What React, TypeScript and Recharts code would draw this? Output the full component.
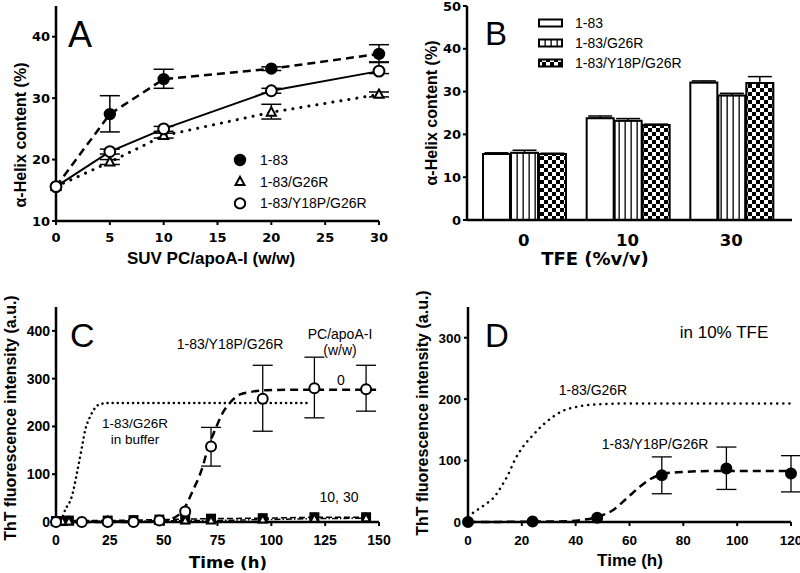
import React from 'react';
import { LineChart, Line, XAxis, YAxis, ErrorBar, BarChart, Bar, ComposedChart, Legend } from 'recharts';

// ---------- Panel A : alpha-helix vs SUV PC/apoA-I ----------
const ratioA = [0, 5, 10, 20, 30];
const ratioTicks = [0, 5, 10, 15, 20, 25, 30];
const helix183 = [15.6, 27.4, 33.1, 34.8, 37.2];
const helix183Err: any[] = [undefined, [2.9, 3.0], [1.5, 1.6], [0.3, 0.3], [1.3, 1.5]];
const helixG26R = [15.6, 19.6, 23.9, 27.7, 30.6];
const helixG26RErr: any[] = [undefined, [0.4, 0.4], [0.4, 0.4], [1.1, 1.3], [0.4, 0.4]];
const helixY18P = [15.6, 21.3, 25.0, 31.2, 34.4];
const helixY18PErr: any[] = [undefined, [0.4, 0.4], [0.4, 0.4], [0.4, 0.4], [0.4, 1.4]];
const helixTicksA = [10, 20, 30, 40];

// ---------- Panel B : alpha-helix vs TFE ----------
const tfeCats = ['0', '10', '30'];
const bar183 = [15.4, 23.8, 32.1];
const bar183Err = [0.3, 0.5, 0.4];
const barG26R = [15.7, 23.2, 29.1];
const barG26RErr = [0.6, 0.5, 0.5];
const barY18P = [15.4, 22.2, 32.0];
const barY18PErr = [0.2, 0.2, 1.5];
const helixTicksB = [0, 10, 20, 30, 40, 50];

// ---------- Panel C : ThT kinetics with PC ----------
const timeC = [0, 12, 24, 36, 48, 60, 72, 96, 120, 144];
const thtC0 = [0, 0, 0, 0, 3, 22, 158, 258, 280, 278];
const thtC0Err: any[] = [undefined, undefined, undefined, undefined, undefined, undefined, [41, 40], [68, 70], [62, 65], [46, 50]];
const timeCLow = [0, 3, 6, 24, 36, 48, 60, 72, 96, 120, 144];
const thtC10 = [2, 2, 3, 3, 4, 5, 6, 7, 8, 10, 10];
const thtC30 = [0, 1, 1, 2, 2, 2, 3, 3, 5, 7, 8];
const fitBufT = [0, 2, 4.3, 7.4, 9.7, 12.1, 13.6, 15.9, 18.2, 20.6, 25, 40, 80, 118];
const fitBufV = [0, 2, 26, 54, 102, 158, 193, 221, 239, 247, 249, 249, 249, 249];
const fitC0T = [0, 30, 50, 54.6, 59.2, 63.8, 67.7, 70.8, 73.9, 77, 80.9, 85.5, 90.2, 97.9, 120, 150];
const fitC0V = [0, 0, 2, 8, 26, 68, 110, 158, 193, 225, 250, 267, 272, 276, 277, 277];
const timeTicksC = [0, 25, 50, 75, 100, 125, 150];
const thtTicksC = [0, 100, 200, 300, 400];

// ---------- Panel D : ThT kinetics in 10% TFE ----------
const timeD = [0, 24, 48, 72, 96, 120];
const thtD = [0, 1, 7, 76, 87, 79];
const thtDErr: any[] = [undefined, undefined, undefined, [30, 30], [34, 35], [30, 29]];
const fitDG26RT = [0, 2.2, 6.2, 10, 12.4, 14.9, 17.4, 20.5, 23.6, 28.6, 34.8, 41, 46.6, 60, 120];
const fitDG26RV = [9, 16, 28, 42, 58, 77, 101, 123, 139, 161, 180, 188, 191, 193, 193];
const fitDY18PT = [0, 34, 41.7, 47.9, 54.1, 59.1, 64, 67.8, 71.5, 77.7, 92.7, 120];
const fitDY18PV = [0, 1, 3, 8, 20, 39, 58, 70, 77, 81, 83, 83];
const timeTicksD = [0, 20, 40, 60, 80, 100, 120];
const thtTicksD = [0, 100, 200, 300];

// ---------- derived tables ----------
const dataA = ratioA.map((x, i) => ({
  x,
  s183: helix183[i], s183Err: helix183Err[i],
  g26r: helixG26R[i], g26rErr: helixG26RErr[i],
  y18p: helixY18P[i], y18pErr: helixY18PErr[i],
}));
const dataB = tfeCats.map((cat, i) => ({
  cat,
  s183: bar183[i], s183Err: [0, bar183Err[i]],
  g26r: barG26R[i], g26rErr: [0, barG26RErr[i]],
  y18p: barY18P[i], y18pErr: [0, barY18PErr[i]],
}));
const seriesC0 = timeC.map((t, i) => ({ t, v: thtC0[i], err: thtC0Err[i] }));
const seriesC10 = timeCLow.map((t, i) => ({ t, v: thtC10[i] }));
const seriesC30 = timeCLow.map((t, i) => ({ t, v: thtC30[i] }));
const fitBuf = fitBufT.map((t, i) => ({ t, v: fitBufV[i] }));
const fitC0 = fitC0T.map((t, i) => ({ t, v: fitC0V[i] }));
const seriesD = timeD.map((t, i) => ({ t, v: thtD[i], err: thtDErr[i] }));
const fitDG26R = fitDG26RT.map((t, i) => ({ t, v: fitDG26RV[i] }));
const fitDY18P = fitDY18PT.map((t, i) => ({ t, v: fitDY18PV[i] }));

// ---------- styles ----------
const LIB = '"Liberation Sans", Arial, sans-serif';
const DJ = '"DejaVu Sans", sans-serif';
const axisLine = { stroke: '#000', strokeWidth: 2.5 };
const tickLine = { stroke: '#000', strokeWidth: 2 };
const tickDJ = { fill: '#000', fontSize: 13, fontWeight: 700, fontFamily: DJ };
const tickDJBig = { fill: '#000', fontSize: 16.5, fontWeight: 700, fontFamily: DJ };
const tickLibC = { fill: '#000', fontSize: 14, fontWeight: 700, fontFamily: LIB };
const tickLibD = { fill: '#000', fontSize: 13.5, fontWeight: 700, fontFamily: LIB };

type Shape = 'circle' | 'triangle' | 'square';
const makeDot = (shape: Shape, fill: string, r: number, sw = 2) => (props: any) => {
  const { cx, cy, index } = props;
  const key = `${shape}-${index}`;
  if (cx == null || cy == null || isNaN(cx) || isNaN(cy)) return <g key={key} />;
  if (shape === 'circle')
    return <circle key={key} cx={cx} cy={cy} r={r} fill={fill} stroke="#000" strokeWidth={sw} strokeDasharray="none" />;
  if (shape === 'square')
    return <rect key={key} x={cx - r} y={cy - r} width={2 * r} height={2 * r} fill={fill} stroke="#000" strokeWidth={sw} strokeDasharray="none" />;
  return (
    <polygon key={key} points={`${cx},${cy - r * 1.1} ${cx - r},${cy + r * 0.75} ${cx + r},${cy + r * 0.75}`}
      fill={fill} stroke="#000" strokeWidth={sw} strokeDasharray="none" strokeLinejoin="miter" />
  );
};

const legendAItems: { label: string; shape: Shape; fill: string }[] = [
  { label: '1-83', shape: 'circle', fill: '#000' },
  { label: '1-83/G26R', shape: 'triangle', fill: '#fff' },
  { label: '1-83/Y18P/G26R', shape: 'circle', fill: '#fff' },
];
const LegendA = () => (
  <svg width={160} height={70} style={{ overflow: 'visible' }}>
    {legendAItems.map((it, i) => {
      const cy = 12 + i * 21.7;
      return (
        <g key={it.label}>
          {makeDot(it.shape, it.fill, it.shape === 'triangle' ? 4.5 : 5.2)({ cx: 12, cy, index: i })}
          <text x={32} y={cy + 5} fontFamily={LIB} fontSize={14} fill="#000">{it.label}</text>
        </g>
      );
    })}
  </svg>
);

const legendBItems = [
  { label: '1-83', fill: '#fff' },
  { label: '1-83/G26R', fill: 'url(#vstripe)' },
  { label: '1-83/Y18P/G26R', fill: 'url(#checker)' },
];
const LegendB = () => (
  <svg width={180} height={70} style={{ overflow: 'visible' }}>
    {legendBItems.map((it, i) => {
      const cy = 13 + i * 20;
      return (
        <g key={it.label}>
          <rect x={9} y={cy - 3.5} width={23} height={7} fill={it.fill} stroke="#000" strokeWidth={2} />
          <text x={45} y={cy + 5} fontFamily={LIB} fontSize={14} fill="#000">{it.label}</text>
        </g>
      );
    })}
  </svg>
);

const PanelA = () => (
  <LineChart width={400} height={290} data={dataA} margin={{ top: 6, right: 21, left: 0, bottom: 39 }}>
    <XAxis type="number" dataKey="x" domain={[0, 30]} ticks={ratioTicks} interval={0} height={30}
      axisLine={axisLine} tickLine={tickLine} tickSize={4} tickMargin={8} tick={tickDJ} />
    <YAxis type="number" domain={[10, 45]} ticks={helixTicksA} interval={0} width={56}
      axisLine={axisLine} tickLine={tickLine} tickSize={4} tickMargin={2} tick={tickDJ} />
    <XAxis xAxisId="top" orientation="top" type="number" domain={[0, 30]} height={0} tick={false} tickLine={false} axisLine={axisLine} />
    <YAxis yAxisId="right" orientation="right" type="number" domain={[10, 45]} width={0} tick={false} tickLine={false} axisLine={axisLine} />
    <Line dataKey="g26r" type="linear" stroke="#000" strokeWidth={3} strokeDasharray="0.1 8" strokeLinecap="round"
      dot={makeDot('triangle', '#fff', 4.5)} isAnimationActive={false}>
      <ErrorBar dataKey="g26rErr" width={10} stroke="#000" strokeWidth={1.5} direction="y" />
    </Line>
    <Line dataKey="s183" type="linear" stroke="#000" strokeWidth={2.5} strokeDasharray="8 5"
      dot={makeDot('circle', '#000', 5.2)} isAnimationActive={false}>
      <ErrorBar dataKey="s183Err" width={10} stroke="#000" strokeWidth={1.5} direction="y" />
    </Line>
    <Line dataKey="y18p" type="linear" stroke="#000" strokeWidth={2}
      dot={makeDot('circle', '#fff', 5.4)} isAnimationActive={false}>
      <ErrorBar dataKey="y18pErr" width={10} stroke="#000" strokeWidth={1.5} direction="y" />
    </Line>
    <Legend layout="vertical" align="center" verticalAlign="middle" content={() => <LegendA />}
      wrapperStyle={{ left: 228, top: 148, width: 160, height: 70 }} />
  </LineChart>
);

const PanelB = () => (
  <BarChart width={400} height={290} data={dataB} margin={{ top: 6, right: 8, left: 0, bottom: 40 }}
    barCategoryGap={11} barGap={1}>
    <defs>
      <pattern id="vstripe" patternUnits="userSpaceOnUse" width={6} height={6}>
        <rect x={0} y={0} width={6} height={6} fill="#fff" />
        <rect x={2.5} y={0} width={1.3} height={6} fill="#000" />
      </pattern>
      <pattern id="checker" patternUnits="userSpaceOnUse" width={8} height={8}>
        <rect x={0} y={0} width={8} height={8} fill="#fff" />
        <rect x={0} y={0} width={4} height={4} fill="#000" />
        <rect x={4} y={4} width={4} height={4} fill="#000" />
      </pattern>
    </defs>
    <XAxis dataKey="cat" padding={{ left: 5, right: 9 }} height={30} interval={0}
      axisLine={axisLine} tickLine={false} tickMargin={8} tick={tickDJBig} />
    <YAxis type="number" domain={[0, 50]} ticks={helixTicksB} interval={0} width={67}
      axisLine={axisLine} tickLine={tickLine} tickSize={4} tickMargin={2} tick={tickDJ} />
    <XAxis xAxisId="top" orientation="top" dataKey="cat" padding={{ left: 5, right: 9 }} height={0} tick={false} tickLine={false} axisLine={axisLine} />
    <YAxis yAxisId="right" orientation="right" type="number" domain={[0, 50]} width={0} tick={false} tickLine={false} axisLine={axisLine} />
    <Bar dataKey="s183" fill="#fff" stroke="#000" strokeWidth={2} isAnimationActive={false}>
      <ErrorBar dataKey="s183Err" width={12} stroke="#000" strokeWidth={1.5} />
    </Bar>
    <Bar dataKey="g26r" fill="url(#vstripe)" stroke="#000" strokeWidth={2} isAnimationActive={false}>
      <ErrorBar dataKey="g26rErr" width={12} stroke="#000" strokeWidth={1.5} />
    </Bar>
    <Bar dataKey="y18p" fill="url(#checker)" stroke="#000" strokeWidth={2} isAnimationActive={false}>
      <ErrorBar dataKey="y18pErr" width={12} stroke="#000" strokeWidth={1.5} />
    </Bar>
    <Legend layout="vertical" align="center" verticalAlign="middle" content={() => <LegendB />}
      wrapperStyle={{ left: 130, top: 10, width: 180, height: 70 }} />
  </BarChart>
);

const PanelC = () => (
  <ComposedChart width={400} height={283} margin={{ top: 17, right: 21, left: 0, bottom: 21 }}>
    <XAxis type="number" dataKey="t" domain={[0, 150]} ticks={timeTicksC} interval={0} height={30}
      axisLine={axisLine} tickLine={tickLine} tickSize={4} tickMargin={9} tick={tickLibC} allowDuplicatedCategory={false} />
    <YAxis type="number" domain={[0, 450]} ticks={thtTicksC} interval={0} width={56}
      axisLine={axisLine} tickLine={tickLine} tickSize={4} tickMargin={2} tick={tickLibC} />
    <XAxis xAxisId="top" orientation="top" type="number" domain={[0, 150]} height={0} tick={false} tickLine={false} axisLine={axisLine} />
    <YAxis yAxisId="right" orientation="right" type="number" domain={[0, 450]} width={0} tick={false} tickLine={false} axisLine={axisLine} />
    <Line data={fitBuf} dataKey="v" type="monotone" stroke="#000" strokeWidth={2.5} strokeDasharray="0.1 5" strokeLinecap="round" dot={false} isAnimationActive={false} />
    <Line data={seriesC10} dataKey="v" type="linear" stroke="#000" strokeWidth={1.5} strokeDasharray="6 3" dot={makeDot('square', '#000', 4)} isAnimationActive={false} />
    <Line data={seriesC30} dataKey="v" type="linear" stroke="#000" strokeWidth={1.5} strokeDasharray="6 2 1.5 2" dot={makeDot('triangle', '#fff', 4)} isAnimationActive={false} />
    <Line data={fitC0} dataKey="v" type="monotone" stroke="#000" strokeWidth={2.5} strokeDasharray="8 5" dot={false} isAnimationActive={false} />
    <Line data={seriesC0} dataKey="v" stroke="none" dot={makeDot('circle', '#fff', 5)} isAnimationActive={false}>
      <ErrorBar dataKey="err" width={10} stroke="#000" strokeWidth={1.3} direction="y" />
    </Line>
  </ComposedChart>
);

const PanelD = () => (
  <ComposedChart width={400} height={283} margin={{ top: 17, right: 9, left: 0, bottom: 21 }}>
    <XAxis type="number" dataKey="t" domain={[0, 120]} ticks={timeTicksD} interval={0} height={30}
      axisLine={axisLine} tickLine={tickLine} tickSize={4} tickMargin={9} tick={tickLibD} allowDuplicatedCategory={false} />
    <YAxis type="number" domain={[0, 350]} ticks={thtTicksD} interval={0} width={68}
      axisLine={axisLine} tickLine={tickLine} tickSize={4} tickMargin={3} tick={tickLibD} />
    <XAxis xAxisId="top" orientation="top" type="number" domain={[0, 120]} height={0} tick={false} tickLine={false} axisLine={axisLine} />
    <YAxis yAxisId="right" orientation="right" type="number" domain={[0, 350]} width={0} tick={false} tickLine={false} axisLine={axisLine} />
    <Line data={fitDG26R} dataKey="v" type="monotone" stroke="#000" strokeWidth={2.5} strokeDasharray="0.1 6" strokeLinecap="round" dot={false} isAnimationActive={false} />
    <Line data={fitDY18P} dataKey="v" type="monotone" stroke="#000" strokeWidth={2.5} strokeDasharray="8 5" dot={false} isAnimationActive={false} />
    <Line data={seriesD} dataKey="v" stroke="none" dot={makeDot('circle', '#000', 5)} isAnimationActive={false}>
      <ErrorBar dataKey="err" width={10} stroke="#000" strokeWidth={1.3} direction="y" />
    </Line>
  </ComposedChart>
);

const txt = { fontFamily: LIB, fill: '#000' } as const;

const Overlay = () => (
  <svg width={800} height={573} style={{ position: 'absolute', left: 0, top: 0, pointerEvents: 'none' }}>
    {/* panel letters */}
    <text x={68} y={46.5} fontSize={36} {...txt}>A</text>
    <text x={485} y={45} fontSize={33} {...txt}>B</text>
    <text x={70} y={346.5} fontSize={34} {...txt}>C</text>
    <text x={485} y={346.5} fontSize={33} {...txt}>D</text>
    {/* axis titles */}
    <text x={20} y={135} transform="rotate(-90 20 135)" textAnchor="middle" dominantBaseline="central" fontSize={16} fontWeight={700} {...txt}>α-Helix content (%)</text>
    <text x={211} y={264} textAnchor="middle" fontSize={17} fontWeight={700} {...txt}>SUV PC/apoA-I (w/w)</text>
    <text x={431} y={113} transform="rotate(-90 431 113)" textAnchor="middle" dominantBaseline="central" fontSize={16} fontWeight={700} {...txt}>α-Helix content (%)</text>
    <text x={595} y={265} textAnchor="middle" fontSize={18} fontWeight={700} fontFamily={DJ} fill="#000">TFE (%v/v)</text>
    <text x={10} y={418} transform="rotate(-90 10 418)" textAnchor="middle" dominantBaseline="central" fontSize={16} fontWeight={700} {...txt}>ThT fluorescence intensity (a.u.)</text>
    <text x={228} y={568} textAnchor="middle" fontSize={16.5} fontWeight={700} fontFamily={DJ} fill="#000">Time (h)</text>
    <text x={422} y={413} transform="rotate(-90 422 413)" textAnchor="middle" dominantBaseline="central" fontSize={16} fontWeight={700} {...txt}>ThT fluorescence intensity (a.u.)</text>
    <text x={630} y={566} textAnchor="middle" fontSize={17} fontWeight={700} {...txt}>Time (h)</text>
    {/* panel C annotations */}
    <text x={230} y={349} textAnchor="middle" fontSize={14} {...txt}>1-83/Y18P/G26R</text>
    <text x={340} y={339} textAnchor="middle" fontSize={14} {...txt}>PC/apoA-I</text>
    <text x={340} y={355} textAnchor="middle" fontSize={14} {...txt}>(w/w)</text>
    <text x={341} y={385} textAnchor="middle" fontSize={14} {...txt}>0</text>
    <text x={135} y={428} textAnchor="middle" fontSize={13.5} {...txt}>1-83/G26R</text>
    <text x={135} y={444} textAnchor="middle" fontSize={13.5} {...txt}>in buffer</text>
    <text x={339} y={501.5} textAnchor="middle" fontSize={14} {...txt}>10, 30</text>
    {/* panel D annotations */}
    <text x={724} y={338} textAnchor="middle" fontSize={17} {...txt}>in 10% TFE</text>
    <text x={593} y={395} textAnchor="middle" fontSize={14} {...txt}>1-83/G26R</text>
    <text x={655} y={449} textAnchor="middle" fontSize={14} {...txt}>1-83/Y18P/G26R</text>
  </svg>
);

export default function App() {
  return (
    <div style={{ position: 'absolute', left: 0, top: 0, width: 800, height: 573, background: '#fff', fontFamily: LIB }}>
      <div style={{ position: 'absolute', left: 0, top: 0 }}><PanelA /></div>
      <div style={{ position: 'absolute', left: 400, top: 0 }}><PanelB /></div>
      <div style={{ position: 'absolute', left: 0, top: 290 }}><PanelC /></div>
      <div style={{ position: 'absolute', left: 400, top: 290 }}><PanelD /></div>
      <Overlay />
    </div>
  );
}
